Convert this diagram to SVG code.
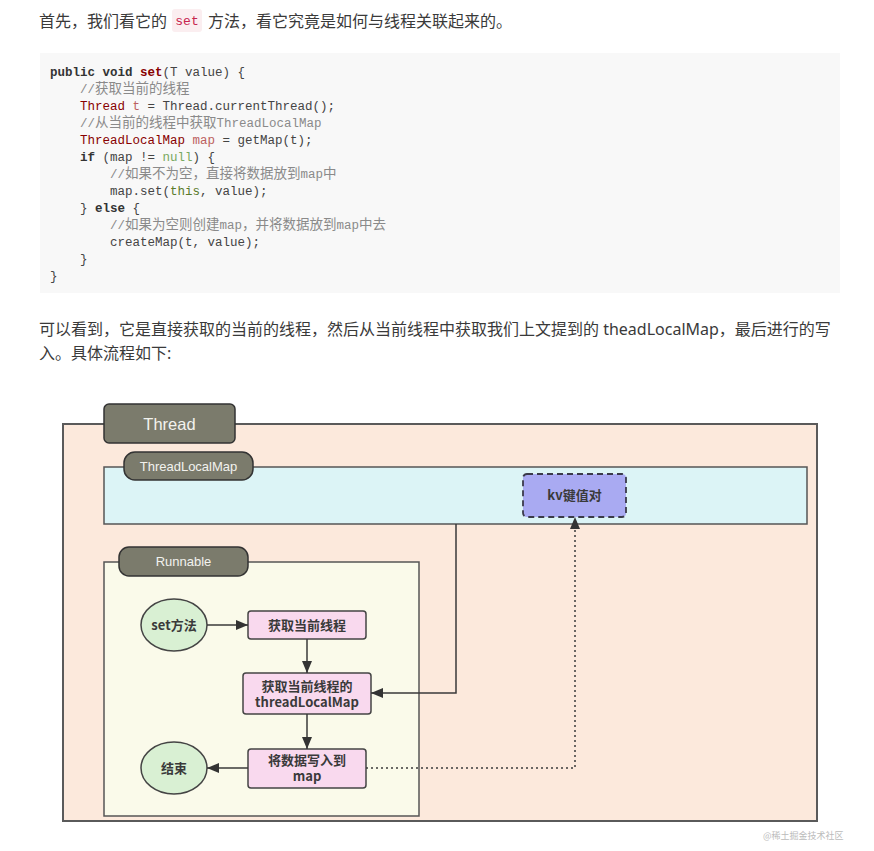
<svg xmlns="http://www.w3.org/2000/svg" width="874" height="851" viewBox="0 0 874 851">
<defs>
<style>
.p{font-family:"Noto Sans","Noto Sans CJK SC",sans-serif;font-size:16px;fill:#3a3a3a}
.code{font-family:"Liberation Mono","Noto Sans CJK SC",monospace;font-size:12.5px;fill:#444}
.cjk{font-family:"Noto Sans CJK SC",sans-serif;font-size:13.5px}
.cm{fill:#8a8a8a}
.kw{font-weight:bold;fill:#333}
.fn{font-weight:bold;fill:#880000}
.ty{fill:#880000}
.vr{fill:#bc6060}
.lit{fill:#78a960}
.th{fill:#5a7a2a}
.lab{fill:#7b7b6c;stroke:#333;stroke-width:1.5}
.labt{font-family:"Liberation Sans","Noto Sans CJK SC",sans-serif;fill:#f2f2ee;text-anchor:middle}
.box{fill:#f9d9ee;stroke:#444;stroke-width:1.5}
.ell{fill:#d9f0d3;stroke:#444;stroke-width:1.5}
.nt{font-family:"Noto Sans CJK SC","Noto Sans",sans-serif;font-size:13px;font-weight:600;fill:#3a3a3a;text-anchor:middle}
.con{fill:none;stroke:#3a3a3a;stroke-width:1.5}
</style>
<marker id="ah" markerUnits="userSpaceOnUse" markerWidth="12" markerHeight="10" refX="12" refY="5" orient="auto">
<path d="M0,0 L12,5 L0,10 z" fill="#333"/>
</marker>
</defs>
<rect width="874" height="851" fill="#fff"/>

<g id="intro">
<text class="p" x="39" y="27">首先，我们看它的</text>
<rect x="172" y="9" width="30" height="23" rx="3" fill="#fbeef0"/>
<text x="187" y="25" text-anchor="middle" font-family="Liberation Mono,monospace" font-size="13" fill="#c7254e">set</text>
<text class="p" x="208" y="27">方法，看它究竟是如何与线程关联起来的。</text>
</g>

<g id="codeblock">
<rect x="40" y="53" width="800" height="240" fill="#f8f8f8"/>
<text class="code" x="50" y="76"><tspan class="kw">public void</tspan> <tspan class="fn">set</tspan>(T value) {</text>
<text class="code cm" x="80" y="93">//<tspan class="cjk">获取当前的线程</tspan></text>
<text class="code" x="80" y="110"><tspan class="ty">Thread</tspan> <tspan class="vr">t</tspan> = Thread.currentThread();</text>
<text class="code cm" x="80" y="127">//<tspan class="cjk">从当前的线程中获取</tspan>ThreadLocalMap</text>
<text class="code" x="80" y="144"><tspan class="ty">ThreadLocalMap</tspan> <tspan class="vr">map</tspan> = getMap(t);</text>
<text class="code" x="80" y="161"><tspan class="kw">if</tspan> (map != <tspan class="lit">null</tspan>) {</text>
<text class="code cm" x="110" y="178">//<tspan class="cjk">如果不为空，直接将数据放到</tspan>map<tspan class="cjk">中</tspan></text>
<text class="code" x="110" y="195">map.set(<tspan class="th">this</tspan>, value);</text>
<text class="code" x="80" y="212">} <tspan class="kw">else</tspan> {</text>
<text class="code cm" x="110" y="229">//<tspan class="cjk">如果为空则创建</tspan>map<tspan class="cjk">，并将数据放到</tspan>map<tspan class="cjk">中去</tspan></text>
<text class="code" x="110" y="246">createMap(t, value);</text>
<text class="code" x="80" y="263">}</text>
<text class="code" x="50" y="280">}</text>
</g>

<g id="para">
<text class="p" x="39" y="335">可以看到，它是直接获取的当前的线程，然后从当前线程中获取我们上文提到的 theadLocalMap，最后进行的写</text>
<text class="p" x="39" y="359">入。具体流程如下:</text>
</g>

<g id="thread">
<rect x="63" y="424" width="754" height="397" fill="#fce9dc" stroke="#5a5a5a" stroke-width="2"/>
<rect class="lab" x="104" y="404" width="131" height="39" rx="5"/>
<text class="labt" x="169.5" y="430" font-size="16.5">Thread</text>
</g>

<g id="threadlocalmap">
<rect x="104" y="467" width="703" height="57" fill="#dcf4f6" stroke="#555" stroke-width="1.5"/>
<rect class="lab" x="124" y="452" width="129" height="28" rx="11"/>
<text class="labt" x="188.5" y="471" font-size="13">ThreadLocalMap</text>
</g>

<g id="kv">
<rect x="523" y="474" width="103" height="43" rx="4" fill="#a9aaf2" stroke="#3a3a4a" stroke-width="1.8" stroke-dasharray="6 4"/>
<text class="nt" x="574.5" y="500">kv键值对</text>
</g>

<g id="runnable">
<rect x="104" y="562" width="315" height="254" fill="#fafaea" stroke="#555" stroke-width="1.5"/>
<rect class="lab" x="119" y="547" width="129" height="29" rx="10"/>
<text class="labt" x="183.5" y="566" font-size="13">Runnable</text>
</g>

<g id="start">
<ellipse class="ell" cx="174" cy="625" rx="33" ry="26"/>
<text class="nt" x="174" y="630">set方法</text>
</g>

<g id="getThread">
<rect class="box" x="248" y="611" width="118" height="28" rx="3"/>
<text class="nt" x="307" y="630">获取当前线程</text>
</g>

<g id="getMap">
<rect class="box" x="243" y="673" width="128" height="41" rx="3"/>
<text class="nt" x="307" y="691">获取当前线程的</text>
<text class="nt" x="307" y="707">threadLocalMap</text>
</g>

<g id="writeMap">
<rect class="box" x="248" y="749" width="118" height="39" rx="3"/>
<text class="nt" x="307" y="765">将数据写入到</text>
<text class="nt" x="307" y="781">map</text>
</g>

<g id="end">
<ellipse class="ell" cx="174" cy="768" rx="33" ry="26"/>
<text class="nt" x="174" y="773">结束</text>
</g>

<g id="connectors">
<line class="con" x1="207" y1="625" x2="248" y2="625" marker-end="url(#ah)"/>
<line class="con" x1="307" y1="639" x2="307" y2="673" marker-end="url(#ah)"/>
<path class="con" d="M456,524 V693 H371" marker-end="url(#ah)"/>
<line class="con" x1="307" y1="714" x2="307" y2="749" marker-end="url(#ah)"/>
<line class="con" x1="248" y1="768" x2="207" y2="768" marker-end="url(#ah)"/>
<path class="con" d="M366,768 H575 V517" stroke-width="2" stroke-dasharray="2 3" marker-end="url(#ah)"/>
</g>

<text x="763" y="839" font-family="Noto Sans CJK SC,sans-serif" font-size="9" fill="#bbb">@稀土掘金技术社区</text>
</svg>
